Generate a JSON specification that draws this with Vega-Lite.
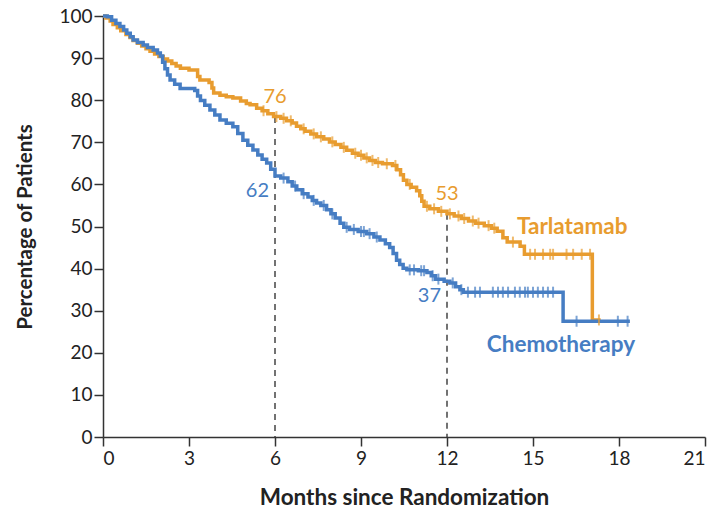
{
  "$schema": "https://vega.github.io/schema/vega-lite/v6.json",
  "width": 602,
  "height": 421,
  "autosize": {"type": "none"},
  "padding": {"left": 103, "top": 16, "right": 11, "bottom": 76},
  "background": "white",
  "config": {
    "view": {"stroke": null},
    "font": "Lato, sans-serif",
    "axis": {
      "grid": false,
      "domainColor": "#333333",
      "domainWidth": 1.5,
      "tickColor": "#333333",
      "tickWidth": 1.5,
      "tickSize": 9,
      "labelColor": "#222222",
      "labelFont": "Lato, sans-serif",
      "labelFontSize": 19,
      "titleFont": "Lato, sans-serif",
      "titleFontWeight": "bold",
      "titleColor": "#222222"
    }
  },
  "datasets": {
    "km": [
      {"group": "Tarlatamab", "month": 0, "pct": 100, "cens": 0},
      {"group": "Tarlatamab", "month": 0.1, "pct": 99.5, "cens": 0},
      {"group": "Tarlatamab", "month": 0.25, "pct": 98.8, "cens": 0},
      {"group": "Tarlatamab", "month": 0.35, "pct": 98.0, "cens": 0},
      {"group": "Tarlatamab", "month": 0.5, "pct": 97.2, "cens": 0},
      {"group": "Tarlatamab", "month": 0.62, "pct": 96.5, "cens": 0},
      {"group": "Tarlatamab", "month": 0.8, "pct": 95.6, "cens": 0},
      {"group": "Tarlatamab", "month": 0.94, "pct": 94.9, "cens": 0},
      {"group": "Tarlatamab", "month": 1.05, "pct": 94.2, "cens": 0},
      {"group": "Tarlatamab", "month": 1.2, "pct": 93.5, "cens": 0},
      {"group": "Tarlatamab", "month": 1.35, "pct": 92.9, "cens": 0},
      {"group": "Tarlatamab", "month": 1.5, "pct": 92.2, "cens": 0},
      {"group": "Tarlatamab", "month": 1.64, "pct": 91.6, "cens": 0},
      {"group": "Tarlatamab", "month": 1.8, "pct": 91.0, "cens": 0},
      {"group": "Tarlatamab", "month": 1.95, "pct": 90.4, "cens": 0},
      {"group": "Tarlatamab", "month": 2.1, "pct": 89.8, "cens": 0},
      {"group": "Tarlatamab", "month": 2.25, "pct": 89.3, "cens": 0},
      {"group": "Tarlatamab", "month": 2.4, "pct": 88.7, "cens": 0},
      {"group": "Tarlatamab", "month": 2.55, "pct": 88.1, "cens": 0},
      {"group": "Tarlatamab", "month": 2.7, "pct": 87.6, "cens": 0},
      {"group": "Tarlatamab", "month": 3.0, "pct": 87.2, "cens": 0},
      {"group": "Tarlatamab", "month": 3.3, "pct": 85.6, "cens": 0},
      {"group": "Tarlatamab", "month": 3.38, "pct": 84.8, "cens": 0},
      {"group": "Tarlatamab", "month": 3.7, "pct": 84.2, "cens": 0},
      {"group": "Tarlatamab", "month": 3.8, "pct": 82.9, "cens": 0},
      {"group": "Tarlatamab", "month": 3.86, "pct": 81.7, "cens": 0},
      {"group": "Tarlatamab", "month": 4.08, "pct": 81.2, "cens": 0},
      {"group": "Tarlatamab", "month": 4.3, "pct": 80.8, "cens": 0},
      {"group": "Tarlatamab", "month": 4.53, "pct": 80.5, "cens": 0},
      {"group": "Tarlatamab", "month": 4.8, "pct": 79.8, "cens": 0},
      {"group": "Tarlatamab", "month": 5.0, "pct": 79.2, "cens": 0},
      {"group": "Tarlatamab", "month": 5.13, "pct": 78.9, "cens": 0},
      {"group": "Tarlatamab", "month": 5.36, "pct": 78.1, "cens": 0},
      {"group": "Tarlatamab", "month": 5.55, "pct": 77.5, "cens": 0},
      {"group": "Tarlatamab", "month": 5.6, "pct": 77.5, "cens": 1},
      {"group": "Tarlatamab", "month": 5.75, "pct": 76.8, "cens": 0},
      {"group": "Tarlatamab", "month": 5.95, "pct": 76.1, "cens": 0},
      {"group": "Tarlatamab", "month": 6.05, "pct": 76.1, "cens": 1},
      {"group": "Tarlatamab", "month": 6.2, "pct": 75.7, "cens": 0},
      {"group": "Tarlatamab", "month": 6.3, "pct": 75.7, "cens": 1},
      {"group": "Tarlatamab", "month": 6.4, "pct": 75.1, "cens": 0},
      {"group": "Tarlatamab", "month": 6.55, "pct": 75.1, "cens": 1},
      {"group": "Tarlatamab", "month": 6.6, "pct": 74.6, "cens": 0},
      {"group": "Tarlatamab", "month": 6.75, "pct": 73.8, "cens": 0},
      {"group": "Tarlatamab", "month": 6.9, "pct": 73.2, "cens": 0},
      {"group": "Tarlatamab", "month": 7.0, "pct": 73.2, "cens": 1},
      {"group": "Tarlatamab", "month": 7.05, "pct": 72.6, "cens": 0},
      {"group": "Tarlatamab", "month": 7.25, "pct": 72.0, "cens": 0},
      {"group": "Tarlatamab", "month": 7.35, "pct": 72.0, "cens": 1},
      {"group": "Tarlatamab", "month": 7.45, "pct": 71.3, "cens": 0},
      {"group": "Tarlatamab", "month": 7.6, "pct": 71.3, "cens": 1},
      {"group": "Tarlatamab", "month": 7.7, "pct": 70.8, "cens": 0},
      {"group": "Tarlatamab", "month": 7.9, "pct": 70.1, "cens": 0},
      {"group": "Tarlatamab", "month": 8.0, "pct": 70.1, "cens": 1},
      {"group": "Tarlatamab", "month": 8.1, "pct": 69.5, "cens": 0},
      {"group": "Tarlatamab", "month": 8.3, "pct": 68.8, "cens": 0},
      {"group": "Tarlatamab", "month": 8.4, "pct": 68.8, "cens": 1},
      {"group": "Tarlatamab", "month": 8.5, "pct": 68.1, "cens": 0},
      {"group": "Tarlatamab", "month": 8.7, "pct": 67.4, "cens": 0},
      {"group": "Tarlatamab", "month": 8.8, "pct": 67.4, "cens": 1},
      {"group": "Tarlatamab", "month": 8.9, "pct": 66.9, "cens": 0},
      {"group": "Tarlatamab", "month": 9.0, "pct": 66.9, "cens": 1},
      {"group": "Tarlatamab", "month": 9.1, "pct": 66.3, "cens": 0},
      {"group": "Tarlatamab", "month": 9.2, "pct": 66.3, "cens": 1},
      {"group": "Tarlatamab", "month": 9.3, "pct": 65.7, "cens": 0},
      {"group": "Tarlatamab", "month": 9.4, "pct": 65.7, "cens": 1},
      {"group": "Tarlatamab", "month": 9.5, "pct": 65.2, "cens": 0},
      {"group": "Tarlatamab", "month": 9.6, "pct": 65.2, "cens": 1},
      {"group": "Tarlatamab", "month": 9.75, "pct": 64.9, "cens": 0},
      {"group": "Tarlatamab", "month": 9.9, "pct": 64.9, "cens": 1},
      {"group": "Tarlatamab", "month": 10.1, "pct": 64.5, "cens": 0},
      {"group": "Tarlatamab", "month": 10.2, "pct": 64.5, "cens": 1},
      {"group": "Tarlatamab", "month": 10.25, "pct": 63.5, "cens": 0},
      {"group": "Tarlatamab", "month": 10.38, "pct": 62.3, "cens": 0},
      {"group": "Tarlatamab", "month": 10.48, "pct": 61.0, "cens": 0},
      {"group": "Tarlatamab", "month": 10.6, "pct": 60.0, "cens": 0},
      {"group": "Tarlatamab", "month": 10.7, "pct": 60.0, "cens": 1},
      {"group": "Tarlatamab", "month": 10.75, "pct": 59.3, "cens": 0},
      {"group": "Tarlatamab", "month": 10.94, "pct": 58.5, "cens": 0},
      {"group": "Tarlatamab", "month": 11.05, "pct": 57.3, "cens": 0},
      {"group": "Tarlatamab", "month": 11.12, "pct": 56.0, "cens": 0},
      {"group": "Tarlatamab", "month": 11.2, "pct": 54.8, "cens": 0},
      {"group": "Tarlatamab", "month": 11.3, "pct": 54.8, "cens": 1},
      {"group": "Tarlatamab", "month": 11.4, "pct": 54.2, "cens": 0},
      {"group": "Tarlatamab", "month": 11.55, "pct": 54.2, "cens": 1},
      {"group": "Tarlatamab", "month": 11.7, "pct": 53.6, "cens": 0},
      {"group": "Tarlatamab", "month": 11.8, "pct": 53.6, "cens": 1},
      {"group": "Tarlatamab", "month": 12.0, "pct": 53.0, "cens": 0},
      {"group": "Tarlatamab", "month": 12.1, "pct": 53.0, "cens": 1},
      {"group": "Tarlatamab", "month": 12.25, "pct": 52.5, "cens": 0},
      {"group": "Tarlatamab", "month": 12.4, "pct": 52.5, "cens": 1},
      {"group": "Tarlatamab", "month": 12.5, "pct": 51.9, "cens": 0},
      {"group": "Tarlatamab", "month": 12.6, "pct": 51.9, "cens": 1},
      {"group": "Tarlatamab", "month": 12.75, "pct": 51.3, "cens": 0},
      {"group": "Tarlatamab", "month": 12.9, "pct": 51.3, "cens": 1},
      {"group": "Tarlatamab", "month": 13.0, "pct": 50.8, "cens": 0},
      {"group": "Tarlatamab", "month": 13.1, "pct": 50.8, "cens": 1},
      {"group": "Tarlatamab", "month": 13.3, "pct": 50.2, "cens": 0},
      {"group": "Tarlatamab", "month": 13.45, "pct": 50.2, "cens": 1},
      {"group": "Tarlatamab", "month": 13.55, "pct": 49.6, "cens": 0},
      {"group": "Tarlatamab", "month": 13.65, "pct": 49.6, "cens": 1},
      {"group": "Tarlatamab", "month": 13.75, "pct": 48.9, "cens": 0},
      {"group": "Tarlatamab", "month": 13.95, "pct": 47.3, "cens": 0},
      {"group": "Tarlatamab", "month": 14.1, "pct": 46.3, "cens": 0},
      {"group": "Tarlatamab", "month": 14.3, "pct": 46.3, "cens": 1},
      {"group": "Tarlatamab", "month": 14.55, "pct": 45.3, "cens": 0},
      {"group": "Tarlatamab", "month": 14.7, "pct": 43.4, "cens": 0},
      {"group": "Tarlatamab", "month": 14.9, "pct": 43.4, "cens": 1},
      {"group": "Tarlatamab", "month": 15.07, "pct": 43.4, "cens": 1},
      {"group": "Tarlatamab", "month": 15.35, "pct": 43.4, "cens": 1},
      {"group": "Tarlatamab", "month": 15.6, "pct": 43.4, "cens": 1},
      {"group": "Tarlatamab", "month": 15.7, "pct": 43.4, "cens": 1},
      {"group": "Tarlatamab", "month": 16.17, "pct": 43.4, "cens": 1},
      {"group": "Tarlatamab", "month": 16.4, "pct": 43.4, "cens": 1},
      {"group": "Tarlatamab", "month": 16.7, "pct": 43.4, "cens": 1},
      {"group": "Tarlatamab", "month": 16.99, "pct": 43.4, "cens": 1},
      {"group": "Tarlatamab", "month": 17.07, "pct": 27.8, "cens": 0},
      {"group": "Tarlatamab", "month": 17.3, "pct": 27.8, "cens": 1},
      {"group": "Tarlatamab", "month": 17.36, "pct": 27.8, "cens": 0},

      {"group": "Chemotherapy", "month": 0, "pct": 100, "cens": 0},
      {"group": "Chemotherapy", "month": 0.15, "pct": 99.8, "cens": 0},
      {"group": "Chemotherapy", "month": 0.3, "pct": 99.0, "cens": 0},
      {"group": "Chemotherapy", "month": 0.45, "pct": 98.2, "cens": 0},
      {"group": "Chemotherapy", "month": 0.59, "pct": 97.5, "cens": 0},
      {"group": "Chemotherapy", "month": 0.72, "pct": 96.7, "cens": 0},
      {"group": "Chemotherapy", "month": 0.83, "pct": 95.9, "cens": 0},
      {"group": "Chemotherapy", "month": 0.95, "pct": 95.1, "cens": 0},
      {"group": "Chemotherapy", "month": 1.05, "pct": 94.3, "cens": 0},
      {"group": "Chemotherapy", "month": 1.2, "pct": 93.7, "cens": 0},
      {"group": "Chemotherapy", "month": 1.4, "pct": 93.1, "cens": 0},
      {"group": "Chemotherapy", "month": 1.55, "pct": 92.5, "cens": 0},
      {"group": "Chemotherapy", "month": 1.75, "pct": 91.9, "cens": 0},
      {"group": "Chemotherapy", "month": 1.9, "pct": 91.2, "cens": 0},
      {"group": "Chemotherapy", "month": 2.0, "pct": 90.5, "cens": 0},
      {"group": "Chemotherapy", "month": 2.08, "pct": 89.0, "cens": 0},
      {"group": "Chemotherapy", "month": 2.16, "pct": 87.5, "cens": 0},
      {"group": "Chemotherapy", "month": 2.25, "pct": 86.0, "cens": 0},
      {"group": "Chemotherapy", "month": 2.34, "pct": 84.8, "cens": 0},
      {"group": "Chemotherapy", "month": 2.5, "pct": 83.8, "cens": 0},
      {"group": "Chemotherapy", "month": 2.69, "pct": 82.8, "cens": 0},
      {"group": "Chemotherapy", "month": 3.2, "pct": 82.3, "cens": 0},
      {"group": "Chemotherapy", "month": 3.3, "pct": 81.0, "cens": 0},
      {"group": "Chemotherapy", "month": 3.4, "pct": 79.9, "cens": 0},
      {"group": "Chemotherapy", "month": 3.55, "pct": 78.8, "cens": 0},
      {"group": "Chemotherapy", "month": 3.73, "pct": 77.7, "cens": 0},
      {"group": "Chemotherapy", "month": 3.9, "pct": 76.5, "cens": 0},
      {"group": "Chemotherapy", "month": 4.08, "pct": 75.3, "cens": 0},
      {"group": "Chemotherapy", "month": 4.3, "pct": 74.5, "cens": 0},
      {"group": "Chemotherapy", "month": 4.53, "pct": 73.7, "cens": 0},
      {"group": "Chemotherapy", "month": 4.7, "pct": 72.1, "cens": 0},
      {"group": "Chemotherapy", "month": 4.88, "pct": 70.5, "cens": 0},
      {"group": "Chemotherapy", "month": 5.05, "pct": 69.3, "cens": 0},
      {"group": "Chemotherapy", "month": 5.23, "pct": 68.2, "cens": 0},
      {"group": "Chemotherapy", "month": 5.4, "pct": 67.0, "cens": 0},
      {"group": "Chemotherapy", "month": 5.55, "pct": 66.0, "cens": 0},
      {"group": "Chemotherapy", "month": 5.71, "pct": 65.1, "cens": 0},
      {"group": "Chemotherapy", "month": 5.85, "pct": 63.6, "cens": 0},
      {"group": "Chemotherapy", "month": 6.0, "pct": 62.0, "cens": 0},
      {"group": "Chemotherapy", "month": 6.2, "pct": 61.5, "cens": 0},
      {"group": "Chemotherapy", "month": 6.3, "pct": 61.5, "cens": 1},
      {"group": "Chemotherapy", "month": 6.45, "pct": 60.6, "cens": 0},
      {"group": "Chemotherapy", "month": 6.6, "pct": 59.6, "cens": 0},
      {"group": "Chemotherapy", "month": 6.7, "pct": 59.6, "cens": 1},
      {"group": "Chemotherapy", "month": 6.76, "pct": 58.7, "cens": 0},
      {"group": "Chemotherapy", "month": 6.95, "pct": 57.8, "cens": 0},
      {"group": "Chemotherapy", "month": 7.0, "pct": 57.8, "cens": 1},
      {"group": "Chemotherapy", "month": 7.15, "pct": 57.0, "cens": 0},
      {"group": "Chemotherapy", "month": 7.3, "pct": 56.2, "cens": 0},
      {"group": "Chemotherapy", "month": 7.35, "pct": 56.2, "cens": 1},
      {"group": "Chemotherapy", "month": 7.45, "pct": 55.6, "cens": 0},
      {"group": "Chemotherapy", "month": 7.6, "pct": 55.0, "cens": 0},
      {"group": "Chemotherapy", "month": 7.7, "pct": 55.0, "cens": 1},
      {"group": "Chemotherapy", "month": 7.8, "pct": 54.0, "cens": 0},
      {"group": "Chemotherapy", "month": 7.95, "pct": 53.0, "cens": 0},
      {"group": "Chemotherapy", "month": 8.0, "pct": 53.0, "cens": 1},
      {"group": "Chemotherapy", "month": 8.1, "pct": 52.0, "cens": 0},
      {"group": "Chemotherapy", "month": 8.27, "pct": 50.8, "cens": 0},
      {"group": "Chemotherapy", "month": 8.4, "pct": 49.8, "cens": 0},
      {"group": "Chemotherapy", "month": 8.5, "pct": 49.8, "cens": 1},
      {"group": "Chemotherapy", "month": 8.6, "pct": 49.3, "cens": 0},
      {"group": "Chemotherapy", "month": 8.75, "pct": 49.3, "cens": 1},
      {"group": "Chemotherapy", "month": 8.9, "pct": 48.8, "cens": 0},
      {"group": "Chemotherapy", "month": 9.0, "pct": 48.8, "cens": 1},
      {"group": "Chemotherapy", "month": 9.1, "pct": 48.8, "cens": 1},
      {"group": "Chemotherapy", "month": 9.2, "pct": 48.3, "cens": 0},
      {"group": "Chemotherapy", "month": 9.3, "pct": 48.3, "cens": 1},
      {"group": "Chemotherapy", "month": 9.45, "pct": 47.5, "cens": 0},
      {"group": "Chemotherapy", "month": 9.55, "pct": 47.5, "cens": 1},
      {"group": "Chemotherapy", "month": 9.66, "pct": 46.8, "cens": 0},
      {"group": "Chemotherapy", "month": 9.85, "pct": 45.9, "cens": 0},
      {"group": "Chemotherapy", "month": 10.0, "pct": 45.0, "cens": 0},
      {"group": "Chemotherapy", "month": 10.12, "pct": 43.6, "cens": 0},
      {"group": "Chemotherapy", "month": 10.24, "pct": 42.0, "cens": 0},
      {"group": "Chemotherapy", "month": 10.35, "pct": 41.0, "cens": 0},
      {"group": "Chemotherapy", "month": 10.47, "pct": 40.1, "cens": 0},
      {"group": "Chemotherapy", "month": 10.6, "pct": 39.7, "cens": 0},
      {"group": "Chemotherapy", "month": 10.7, "pct": 39.7, "cens": 1},
      {"group": "Chemotherapy", "month": 10.85, "pct": 39.7, "cens": 1},
      {"group": "Chemotherapy", "month": 11.0, "pct": 39.5, "cens": 0},
      {"group": "Chemotherapy", "month": 11.1, "pct": 39.5, "cens": 1},
      {"group": "Chemotherapy", "month": 11.2, "pct": 39.5, "cens": 1},
      {"group": "Chemotherapy", "month": 11.3, "pct": 39.1, "cens": 0},
      {"group": "Chemotherapy", "month": 11.45, "pct": 38.3, "cens": 0},
      {"group": "Chemotherapy", "month": 11.5, "pct": 38.3, "cens": 1},
      {"group": "Chemotherapy", "month": 11.6, "pct": 37.5, "cens": 0},
      {"group": "Chemotherapy", "month": 11.7, "pct": 37.5, "cens": 1},
      {"group": "Chemotherapy", "month": 11.9, "pct": 37.0, "cens": 0},
      {"group": "Chemotherapy", "month": 12.1, "pct": 36.6, "cens": 0},
      {"group": "Chemotherapy", "month": 12.2, "pct": 36.6, "cens": 1},
      {"group": "Chemotherapy", "month": 12.3, "pct": 35.7, "cens": 0},
      {"group": "Chemotherapy", "month": 12.45, "pct": 35.0, "cens": 0},
      {"group": "Chemotherapy", "month": 12.5, "pct": 35.0, "cens": 1},
      {"group": "Chemotherapy", "month": 12.57, "pct": 34.4, "cens": 0},
      {"group": "Chemotherapy", "month": 12.73, "pct": 34.4, "cens": 1},
      {"group": "Chemotherapy", "month": 12.98, "pct": 34.4, "cens": 1},
      {"group": "Chemotherapy", "month": 13.15, "pct": 34.4, "cens": 1},
      {"group": "Chemotherapy", "month": 13.6, "pct": 34.4, "cens": 1},
      {"group": "Chemotherapy", "month": 13.78, "pct": 34.4, "cens": 1},
      {"group": "Chemotherapy", "month": 13.95, "pct": 34.4, "cens": 1},
      {"group": "Chemotherapy", "month": 14.13, "pct": 34.4, "cens": 1},
      {"group": "Chemotherapy", "month": 14.37, "pct": 34.4, "cens": 1},
      {"group": "Chemotherapy", "month": 14.54, "pct": 34.4, "cens": 1},
      {"group": "Chemotherapy", "month": 14.72, "pct": 34.4, "cens": 1},
      {"group": "Chemotherapy", "month": 14.82, "pct": 34.4, "cens": 1},
      {"group": "Chemotherapy", "month": 15.0, "pct": 34.4, "cens": 1},
      {"group": "Chemotherapy", "month": 15.17, "pct": 34.4, "cens": 1},
      {"group": "Chemotherapy", "month": 15.35, "pct": 34.4, "cens": 1},
      {"group": "Chemotherapy", "month": 15.52, "pct": 34.4, "cens": 1},
      {"group": "Chemotherapy", "month": 15.7, "pct": 34.4, "cens": 1},
      {"group": "Chemotherapy", "month": 16.05, "pct": 27.5, "cens": 0},
      {"group": "Chemotherapy", "month": 16.52, "pct": 27.5, "cens": 1},
      {"group": "Chemotherapy", "month": 17.96, "pct": 27.5, "cens": 1},
      {"group": "Chemotherapy", "month": 18.3, "pct": 27.5, "cens": 1},
      {"group": "Chemotherapy", "month": 18.38, "pct": 27.5, "cens": 0}
    ],
    "landmarks": [
      {"group": "Tarlatamab", "month": 6, "pct": 76},
      {"group": "Chemotherapy", "month": 6, "pct": 62},
      {"group": "Tarlatamab", "month": 12, "pct": 53},
      {"group": "Chemotherapy", "month": 12, "pct": 37}
    ],
    "names": [
      {"group": "Tarlatamab", "month": 14.44, "pct": 49.9},
      {"group": "Chemotherapy", "month": 13.39, "pct": 21.9}
    ]
  },
  "layer": [
    {
      "data": {"name": "landmarks"},
      "transform": [{"filter": "datum.group === 'Tarlatamab'"}],
      "mark": {"type": "rule", "color": "#444444", "strokeWidth": 1.5, "strokeDash": [6, 5]},
      "encoding": {
        "x": {"field": "month", "type": "quantitative"},
        "y": {"field": "pct", "type": "quantitative"},
        "y2": {"datum": 0}
      }
    },
    {
      "data": {"name": "km"},
      "mark": {"type": "line", "interpolate": "step-after", "strokeWidth": 3.5},
      "encoding": {
        "x": {
          "field": "month", "type": "quantitative",
          "scale": {"domain": [0, 21], "nice": false},
          "axis": {"values": [0, 3, 6, 9, 12, 15, 18, 21], "title": "Months since Randomization", "titleFontSize": 22.5, "labelPadding": 3, "titlePadding": 18}
        },
        "y": {
          "field": "pct", "type": "quantitative",
          "scale": {"domain": [0, 100], "nice": false},
          "axis": {"values": [0, 10, 20, 30, 40, 50, 60, 70, 80, 90, 100], "title": "Percentage of Patients", "titleFontSize": 20.5, "labelPadding": 2, "titlePadding": 23}
        },
        "color": {
          "field": "group", "type": "nominal",
          "scale": {"domain": ["Tarlatamab", "Chemotherapy"], "range": ["#E89C2F", "#467DC3"]},
          "legend": null
        }
      }
    },
    {
      "data": {"name": "km"},
      "transform": [{"filter": "datum.cens === 1"}],
      "mark": {"type": "tick", "orient": "vertical", "size": 11, "thickness": 2},
      "encoding": {
        "x": {"field": "month", "type": "quantitative"},
        "y": {"field": "pct", "type": "quantitative"},
        "color": {"field": "group", "type": "nominal", "legend": null}
      }
    },
    {
      "data": {"name": "landmarks"},
      "transform": [{"filter": "datum.group === 'Tarlatamab'"}],
      "mark": {"type": "text", "align": "center", "baseline": "middle", "dy": -20, "fontSize": 20},
      "encoding": {
        "x": {"field": "month", "type": "quantitative"},
        "y": {"field": "pct", "type": "quantitative"},
        "text": {"field": "pct", "type": "quantitative"},
        "color": {"field": "group", "type": "nominal", "legend": null}
      }
    },
    {
      "data": {"name": "landmarks"},
      "transform": [{"filter": "datum.group === 'Chemotherapy'"}],
      "mark": {"type": "text", "align": "right", "baseline": "middle", "dx": -6, "dy": 15, "fontSize": 20},
      "encoding": {
        "x": {"field": "month", "type": "quantitative"},
        "y": {"field": "pct", "type": "quantitative"},
        "text": {"field": "pct", "type": "quantitative"},
        "color": {"field": "group", "type": "nominal", "legend": null}
      }
    },
    {
      "data": {"name": "names"},
      "mark": {"type": "text", "align": "left", "baseline": "middle", "fontSize": 22.5, "fontWeight": "bold"},
      "encoding": {
        "x": {"field": "month", "type": "quantitative"},
        "y": {"field": "pct", "type": "quantitative"},
        "text": {"field": "group", "type": "nominal"},
        "color": {"field": "group", "type": "nominal", "legend": null}
      }
    }
  ]
}
